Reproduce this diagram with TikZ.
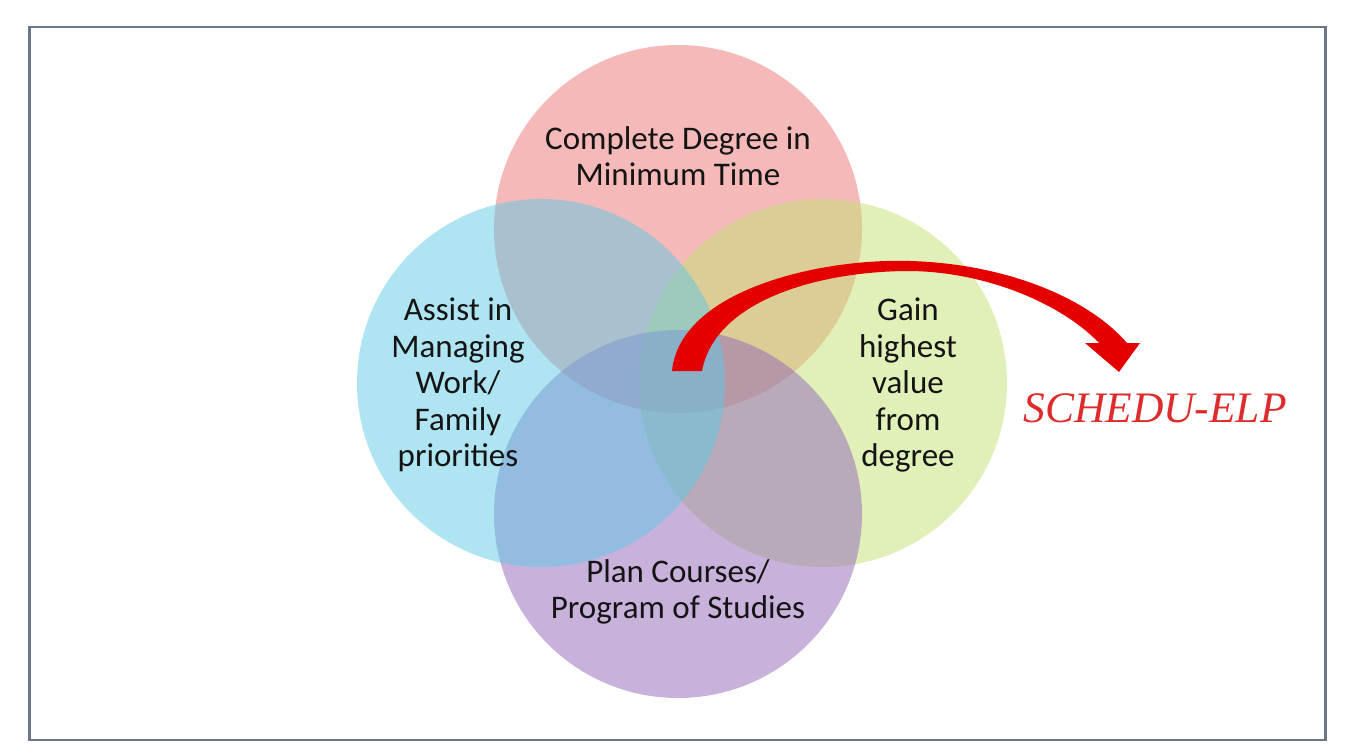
\documentclass[tikz,border=0pt]{standalone}
\usepackage{xcolor}
\usepackage{fontspec}
\setmainfont{Carlito}
\newfontfamily\brandfont{Liberation Serif}
\usepackage{tikz}
\usetikzlibrary{positioning}
\definecolor{FrameGray}{HTML}{6B7687}
\definecolor{DegreeRed}{RGB}{235,115,115}
\definecolor{ValueGreen}{RGB}{195,225,115}
\definecolor{PlanPurple}{RGB}{145,101,185}
\definecolor{AssistCyan}{RGB}{95,201,229}
\definecolor{ArrowRed}{RGB}{228,0,0}
\definecolor{BrandRed}{RGB}{222,44,44}
\definecolor{Ink}{HTML}{141414}
\tikzset{
  setdisc/.style={
    circle,
    minimum size=368pt,
    inner sep=0pt,
    fill opacity=0.5,
    draw=none
  },
  setlabel/.style={
    align=center,
    text=Ink,
    font=\fontsize{33}{36.5}\selectfont,
    inner sep=0pt
  },
  brandlabel/.style={
    text=BrandRed,
    font=\brandfont\itshape\fontsize{43.5}{48}\selectfont,
    inner sep=0pt
  }
}
\begin{document}
\begin{tikzpicture}[x=1pt,y=-1pt]
  \useasboundingbox (0,0) rectangle (1354,754);
  \node[draw=FrameGray, line width=2.5pt, minimum width=1296pt, minimum height=713pt,
        inner sep=0pt] (frame) at (677.5,383.5) {};

  % four overlapping sets
  \node[setdisc, fill=DegreeRed]  (degree) at (678,229) {};
  \node[setdisc, fill=ValueGreen] (value)  at (823,383) {};
  \node[setdisc, fill=PlanPurple] (plan)   at (678,514) {};
  \node[setdisc, fill=AssistCyan] (assist) at (541,383) {};

  \node[setlabel] (degreetext) at (678,156) {Complete Degree in\\Minimum Time};
  \node[setlabel] (assisttext) at (458,385) {Assist in\\Managing\\Work/\\Family\\priorities};
  \node[setlabel] (valuetext)  at (908,385) {Gain\\highest\\value\\from\\degree};
  \node[setlabel] (plantext)   at (678,592) {Plan Courses/\\Program of Studies};

  % curved block arrow
  \fill[ArrowRed]
    (672,371) .. controls (680,290) and (820,258) .. (910,261)
              .. controls (1010,264) and (1090,300) .. (1127,343)
    -- (1140,343) -- (1119,372) -- (1085,343) -- (1099,343)
              .. controls (1064,306) and (990,272) .. (910,271)
              .. controls (820,271) and (715,300) .. (702,371)
    -- cycle;

  \node[brandlabel] (brand) at (1155,408) {SCHEDU-ELP};
\end{tikzpicture}
\end{document}
